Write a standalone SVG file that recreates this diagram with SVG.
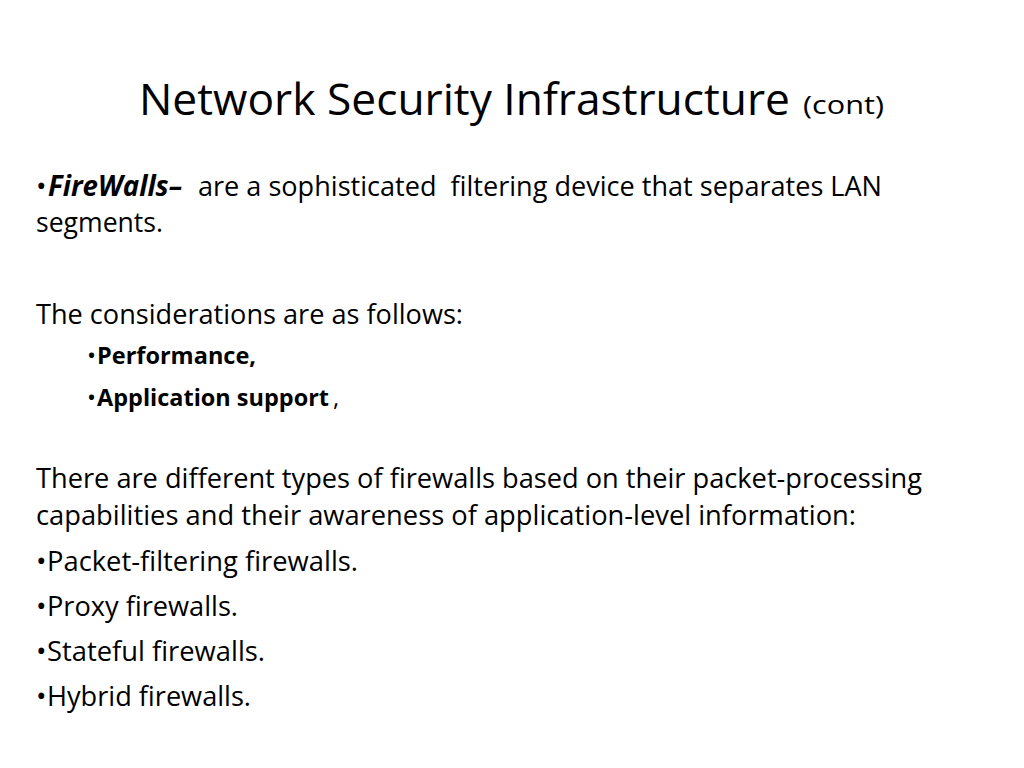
<svg xmlns="http://www.w3.org/2000/svg" width="1024" height="768" viewBox="0 0 1024 768">
<style>
text{font-family:"Open Sans","Noto Sans","Liberation Sans",sans-serif;fill:#000;white-space:pre}
.t{font-size:43px}
.s{font-size:25px}
.b{font-size:28px}
.sub{font-size:24px}
.bold{font-weight:bold}
.bi{font-weight:bold;font-style:italic}
</style>
<rect width="1024" height="768" fill="#fff"/>
<g id="title">
<text class="t" x="139" y="115" textLength="651" lengthAdjust="spacingAndGlyphs">Network Security Infrastructure</text>
<text class="s" x="803" y="114" textLength="81" lengthAdjust="spacingAndGlyphs">(cont)</text>
</g>
<g id="firewalls">
<text class="b" x="36" y="196">•</text>
<text class="b bi" x="48" y="196" textLength="134" lengthAdjust="spacingAndGlyphs">FireWalls–</text>
<text class="b" x="198" y="196" textLength="684" lengthAdjust="spacingAndGlyphs">are a sophisticated  filtering device that separates LAN</text>
<text class="b" x="36" y="232" textLength="127" lengthAdjust="spacingAndGlyphs">segments.</text>
</g>
<g id="considerations">
<text class="b" x="36" y="324" textLength="427" lengthAdjust="spacingAndGlyphs">The considerations are as follows:</text>
<text class="sub" x="87" y="364">•</text>
<text class="sub bold" x="97" y="364" textLength="159" lengthAdjust="spacingAndGlyphs">Performance,</text>
<text class="sub" x="87" y="406">•</text>
<text class="sub bold" x="97" y="406" textLength="232" lengthAdjust="spacingAndGlyphs">Application support</text>
<text class="sub" x="333" y="406">,</text>
</g>
<g id="types">
<text class="b" x="36" y="488" textLength="886" lengthAdjust="spacingAndGlyphs">There are different types of firewalls based on their packet-processing</text>
<text class="b" x="36" y="525" textLength="820" lengthAdjust="spacingAndGlyphs">capabilities and their awareness of application-level information:</text>
<text class="b" x="36" y="571">•</text>
<text class="b" x="47" y="571" textLength="311" lengthAdjust="spacingAndGlyphs">Packet-filtering firewalls.</text>
<text class="b" x="36" y="616">•</text>
<text class="b" x="47" y="616" textLength="191" lengthAdjust="spacingAndGlyphs">Proxy firewalls.</text>
<text class="b" x="36" y="661">•</text>
<text class="b" x="47" y="661" textLength="218" lengthAdjust="spacingAndGlyphs">Stateful firewalls.</text>
<text class="b" x="36" y="706">•</text>
<text class="b" x="47" y="706" textLength="204" lengthAdjust="spacingAndGlyphs">Hybrid firewalls.</text>
</g>
</svg>
